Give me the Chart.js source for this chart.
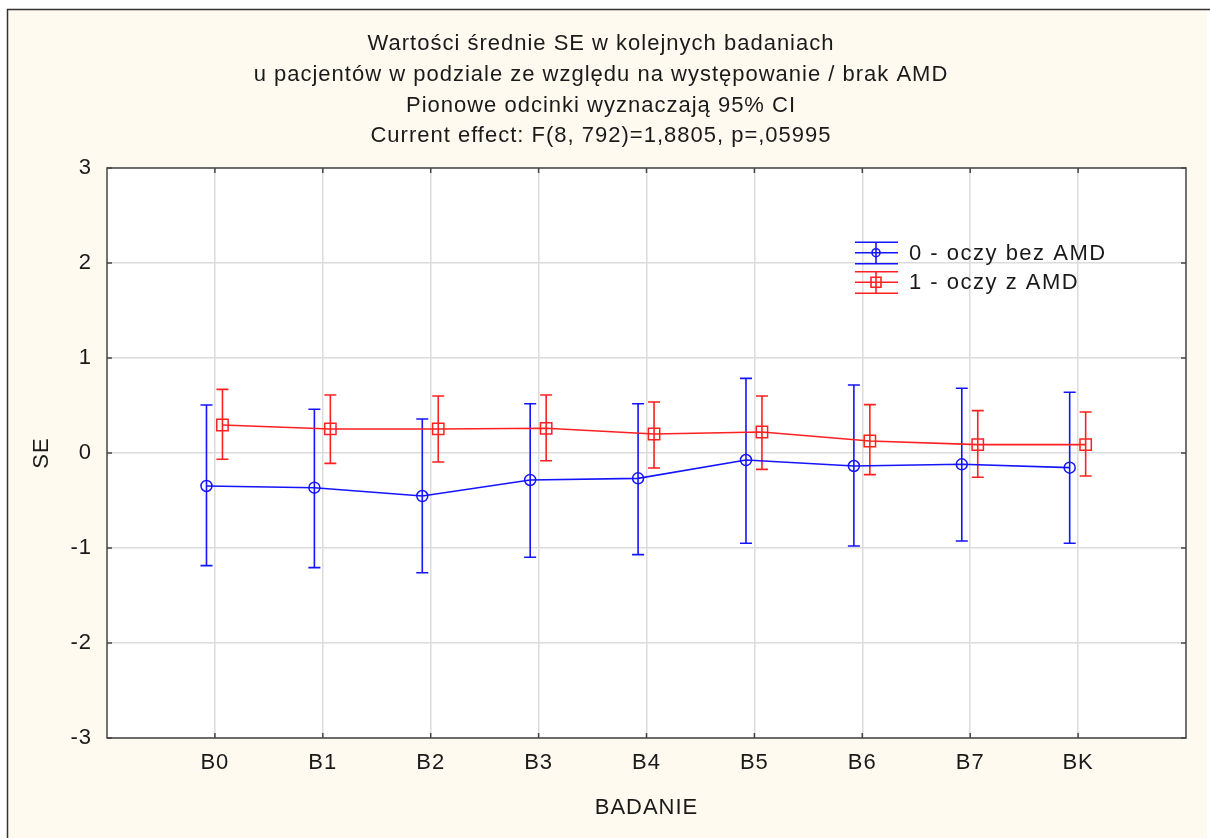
<!DOCTYPE html>
<html>
<head>
<meta charset="utf-8">
<script src="https://cdn.jsdelivr.net/npm/chart.js@4"></script>
<style>
  html, body { margin: 0; padding: 0; background: #fff; }
  canvas { display: block; }
</style>
</head>
<body>
<canvas id="chart" width="1210" height="838"></canvas>
<script>
// ── data ─────────────────────────────────────────────────────────────────────
const categories = ['B0', 'B1', 'B2', 'B3', 'B4', 'B5', 'B6', 'B7', 'BK'];

// group 0 - oczy bez AMD
const mean0 = [-0.347, -0.365, -0.453, -0.284, -0.267, -0.074, -0.137, -0.119, -0.154];
const low0  = [-1.186, -1.207, -1.260, -1.098, -1.070, -0.950, -0.979, -0.926, -0.950];
const high0 = [0.505, 0.460, 0.358, 0.519, 0.519, 0.786, 0.716, 0.681, 0.639];

// group 1 - oczy z AMD
const mean1 = [0.295, 0.253, 0.253, 0.260, 0.200, 0.221, 0.126, 0.088, 0.088];
const low1  = [-0.066, -0.109, -0.095, -0.081, -0.158, -0.172, -0.228, -0.256, -0.242];
const high1 = [0.670, 0.610, 0.600, 0.610, 0.537, 0.600, 0.509, 0.446, 0.432];

const seriesNames = ['0 - oczy bez AMD', '1 - oczy z AMD'];
const titleLines = [
  'Wartości średnie SE w kolejnych badaniach',
  'u pacjentów w podziale ze względu na występowanie / brak AMD',
  'Pionowe odcinki wyznaczają 95% CI',
  'Current effect: F(8, 792)=1,8805, p=,05995',
];
const yTicks = [-3, -2, -1, 0, 1, 2, 3];

// ── styling ──────────────────────────────────────────────────────────────────
const FONT = '"Liberation Sans", Arial, sans-serif';
const TEXT = '#1a1a1a';
const BLUE = '#1414ff';
const RED = '#ff2020';
const CREAM = '#fffaf0';
const GRID = '#dcdcdc';
const FRAME = '#454545';
const OFF0 = -0.078, OFF1 = 0.07;

const pts = (means, off) => means.map((v, i) => ({ x: i + off, y: v }));

// page background, outer frame, plot frame, titles, legend, error bars
const decor = {
  id: 'decor',
  beforeDraw(chart) {
    const { ctx, chartArea: a } = chart;
    ctx.letterSpacing = '1px';   // the reference text is set slightly wide
    ctx.save();
    ctx.fillStyle = '#fff';
    ctx.fillRect(0, 0, chart.width, chart.height);
    ctx.fillStyle = CREAM;
    ctx.fillRect(7, 9, 1200, chart.height - 9);
    ctx.strokeStyle = '#333';
    ctx.lineWidth = 1.5;
    ctx.beginPath();
    ctx.moveTo(7.5, chart.height);
    ctx.lineTo(7.5, 9.5);
    ctx.lineTo(chart.width, 9.5);
    ctx.stroke();
    ctx.fillStyle = '#fff';
    ctx.fillRect(a.left, a.top, a.right - a.left, a.bottom - a.top);

    ctx.fillStyle = TEXT;
    ctx.font = '22px ' + FONT;
    ctx.textAlign = 'center';
    ctx.textBaseline = 'alphabetic';
    titleLines.forEach((t, i) => ctx.fillText(t, 601, 50 + i * 30.8));

    ctx.textBaseline = 'middle';
    ctx.fillText('BADANIE', (a.left + a.right) / 2, 808);
    ctx.translate(42, (a.top + a.bottom) / 2);
    ctx.rotate(-Math.PI / 2);
    ctx.fillText('SE', 0, 0);
    ctx.restore();
  },
  beforeDatasetsDraw(chart) {
    const { ctx, chartArea: a, scales: { x, y } } = chart;
    ctx.save();
    ctx.strokeStyle = FRAME;
    ctx.lineWidth = 1.5;
    ctx.strokeRect(a.left, a.top, a.right - a.left, a.bottom - a.top);
    ctx.beginPath();
    categories.forEach((c, i) => {
      const px = x.getPixelForValue(i);
      ctx.moveTo(px, a.bottom); ctx.lineTo(px, a.bottom - 5);
      ctx.moveTo(px, a.top); ctx.lineTo(px, a.top + 5);
    });
    yTicks.forEach(v => {
      const py = y.getPixelForValue(v);
      ctx.moveTo(a.left, py); ctx.lineTo(a.left + 5, py);
      ctx.moveTo(a.right, py); ctx.lineTo(a.right - 5, py);
    });
    ctx.stroke();

    // 95% CI whiskers
    const bars = [[low0, high0, OFF0, BLUE], [low1, high1, OFF1, RED]];
    bars.forEach(([lo, hi, off, col]) => {
      ctx.strokeStyle = col;
      ctx.lineWidth = 1.6;
      ctx.beginPath();
      lo.forEach((l, i) => {
        const px = x.getPixelForValue(i + off);
        const p1 = y.getPixelForValue(l), p2 = y.getPixelForValue(hi[i]);
        ctx.moveTo(px, p1); ctx.lineTo(px, p2);
        ctx.moveTo(px - 6, p1); ctx.lineTo(px + 6, p1);
        ctx.moveTo(px - 6, p2); ctx.lineTo(px + 6, p2);
      });
      ctx.stroke();
    });
    ctx.restore();
  },
  afterDraw(chart) {
    const { ctx } = chart;
    ctx.save();
    const rows = [[252.7, BLUE, 'circle'], [282.3, RED, 'rect']];
    rows.forEach(([cy, col, shape], i) => {
      const cx = 876;
      ctx.strokeStyle = col;
      ctx.lineWidth = 1.6;
      ctx.beginPath();
      ctx.moveTo(855, cy); ctx.lineTo(898, cy);
      ctx.moveTo(855, cy - 10.5); ctx.lineTo(898, cy - 10.5);
      ctx.moveTo(855, cy + 11); ctx.lineTo(898, cy + 11);
      ctx.moveTo(cx, cy - 10.5); ctx.lineTo(cx, cy + 11);
      ctx.stroke();
      ctx.beginPath();
      if (shape === 'circle') ctx.arc(cx, cy, 4, 0, Math.PI * 2);
      else ctx.rect(cx - 5, cy - 5, 10, 10);
      ctx.stroke();
      ctx.fillStyle = TEXT;
      ctx.font = '22px ' + FONT;
      ctx.letterSpacing = '1.5px';
      ctx.textAlign = 'left';
      ctx.textBaseline = 'middle';
      ctx.fillText(seriesNames[i], 909, cy + 1);
    });
    ctx.restore();
  },
};

new Chart(document.getElementById('chart'), {
  type: 'line',
  data: {
    datasets: [
      {
        label: seriesNames[0],
        data: pts(mean0, OFF0),
        borderColor: BLUE,
        borderWidth: 1.6,
        pointStyle: 'circle',
        pointRadius: 5.5,
        pointBorderWidth: 1.5,
        pointBorderColor: BLUE,
        pointBackgroundColor: 'rgba(0,0,0,0)',
        tension: 0,
      },
      {
        label: seriesNames[1],
        data: pts(mean1, OFF1),
        borderColor: RED,
        borderWidth: 1.6,
        pointStyle: 'rect',
        pointRadius: 8,
        pointBorderWidth: 1.5,
        pointBorderColor: RED,
        pointBackgroundColor: 'rgba(0,0,0,0)',
        tension: 0,
      },
    ],
  },
  options: {
    responsive: false,
    animation: false,
    layout: { padding: { top: 168, left: 0, right: 24, bottom: 0 } },
    plugins: {
      legend: { display: false },
      title: { display: false },
      tooltip: { enabled: false },
    },
    scales: {
      x: {
        type: 'linear',
        min: -1,
        max: 9,
        afterFit: s => { s.height = 100; },
        afterBuildTicks: s => { s.ticks = categories.map((c, i) => ({ value: i })); },
        ticks: {
          autoSkip: false,
          maxRotation: 0,
          padding: 12,
          color: TEXT,
          font: { family: FONT, size: 22 },
          callback: v => categories[v] ?? '',
        },
        grid: { color: GRID, lineWidth: 1.5, drawTicks: false },
        border: { display: false },
      },
      y: {
        min: -3,
        max: 3,
        afterFit: s => { s.width = 107; },
        afterBuildTicks: s => { s.ticks = yTicks.map(v => ({ value: v })); },
        ticks: {
          padding: 15,
          color: TEXT,
          font: { family: FONT, size: 22 },
        },
        grid: { color: GRID, lineWidth: 1.5, drawTicks: false },
        border: { display: false },
      },
    },
  },
  plugins: [decor],
});
</script>
</body>
</html>
